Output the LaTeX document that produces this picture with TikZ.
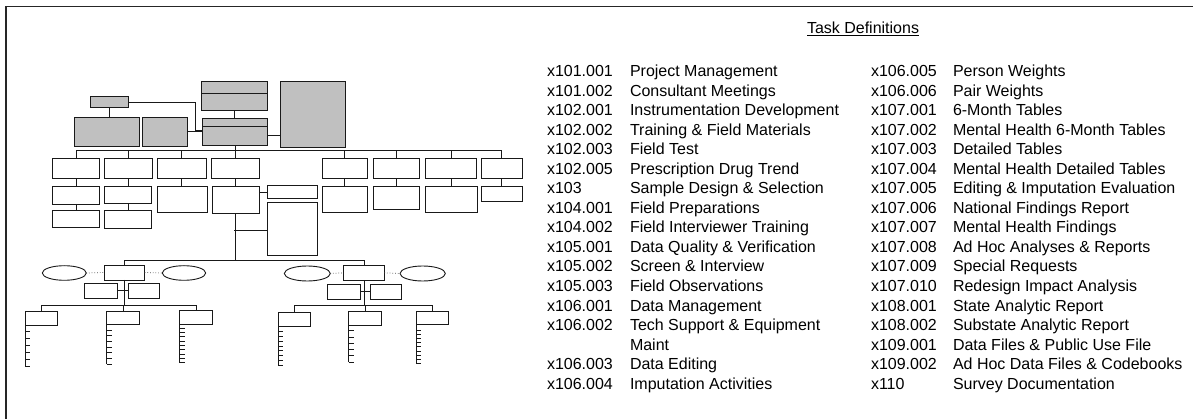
\documentclass[tikz,border=0pt]{standalone}
\usepackage{fontspec}
\setmainfont{Liberation Sans}
\usetikzlibrary{shapes.geometric}
\definecolor{boxgray}{HTML}{C0C0C0}
\newcommand\bx[6]{\node[#6, minimum width={(#4-#2)*1pt}, minimum height={(#5-#3)*1pt}] (#1) at ({(#2+#4)/2},{(#3+#5)/2}) {};}
\newcommand\lad[5]{\draw[ln] (#1.south west) -- (#2,#3);
  \foreach \k in {1,...,#5}{\pgfmathsetmacro\yy{#4+(\k-1)*(#3-#4)/(#5-1)}\draw[ln] (#2,\yy) -- ++(5,0);}}
\newcommand\entry[6]{%
  \node[txt] (#1c) at (#2,{76.5+#4*19.55}) {#5};
  \node[txt] (#1d) at (#3,{76.5+#4*19.55}) {#6};}
\begin{document}
\begin{tikzpicture}[x=1pt,y=-1pt,
  ln/.style={line width=0.9pt,draw=black!90},
  gbox/.style={rectangle,draw=black!90,line width=0.9pt,fill=boxgray,inner sep=0pt,outer sep=0pt},
  wbox/.style={rectangle,draw=black!90,line width=0.9pt,fill=white,inner sep=0pt,outer sep=0pt},
  ell/.style={ellipse,draw=black!90,line width=0.9pt,fill=white,inner sep=0pt,outer sep=0pt},
  dotl/.style={draw=black!70,line width=0.7pt,dotted},
  txt/.style={anchor=base west,inner sep=0pt,outer sep=0pt,font=\fontsize{16}{19}\selectfont}]
\useasboundingbox (0,0) rectangle (1193,419);
% frame (top and left edges)
\coordinate (fr0) at (6,419);
\coordinate (fr1) at (6,6.5);
\coordinate (fr2) at (1193,6.5);
\draw[line width=1.8pt,draw=black!85] (fr0) -- (fr1) -- (fr2);

% gray boxes
\bx{sm}{90.3}{96.3}{128.7}{107.7}{gbox}
\bx{gl}{74}{117.3}{139.7}{146}{gbox}
\bx{gt}{142.3}{117.3}{187}{146}{gbox}
\bx{tctop}{201.7}{81.3}{267}{93.3}{gbox}
\bx{tcbot}{201.7}{93.3}{267}{110.3}{gbox}
\bx{cgtop}{202.7}{118}{267.3}{126}{gbox}
\bx{cgbot}{202.7}{126}{267.3}{145.3}{gbox}
\bx{rg}{280}{81.3}{345.3}{147}{gbox}

\draw[ln] (sm.south) -- (sm.south |- gl.north);
\coordinate (k1) at (195,130.3);
\draw[ln] (sm.east) -| (k1) -- (k1 -| cgbot.west);
\draw[ln] (gt.east) -- (gt.east -| cgbot.west);
\draw[ln] (cgbot.east) -- (cgbot.east -| rg.west);
\draw[ln] (tcbot.south) -- (tcbot.south |- cgtop.north);

% row 1
\bx{ra}{52.3}{158}{99.7}{178.7}{wbox}
\bx{rb}{104.7}{158}{152.3}{178.7}{wbox}
\bx{rc}{157.3}{158}{206.3}{178.7}{wbox}
\bx{rd}{211.3}{158}{259}{178.7}{wbox}
\bx{re}{322.3}{158}{367.3}{178.7}{wbox}
\bx{rf}{373.7}{158}{419}{178.7}{wbox}
\bx{rgg}{425.3}{158}{476.7}{178.7}{wbox}
\bx{rh}{481}{158}{522.3}{178.7}{wbox}
\coordinate (bus) at (234.3,150.3);
\draw[ln] (cgbot.south) -- (cgbot.south |- bus);
\draw[ln] (ra.north) -- (ra.north |- bus) -- (rh.north |- bus) -- (rh.north);
\foreach \n in {rb,rc,rd,re,rf,rgg}{\draw[ln] (\n.north) -- (\n.north |- bus);}

% row 2
\bx{sa}{52.3}{186.3}{99.7}{204}{wbox}
\bx{sb}{104.7}{186.3}{151.3}{203.3}{wbox}
\bx{sc}{157.3}{186.7}{207.3}{212.3}{wbox}
\bx{sd}{212.3}{186.3}{259}{213.7}{wbox}
\bx{side}{267.3}{185.7}{317.3}{198.3}{wbox}
\bx{tall}{267.7}{202.3}{317.3}{255.3}{wbox}
\bx{se}{322.3}{186.3}{367.3}{212.3}{wbox}
\bx{sf}{373.7}{186.3}{419}{209}{wbox}
\bx{sg}{425.3}{186.3}{477}{212.3}{wbox}
\bx{sh}{481}{186.3}{522.3}{201.7}{wbox}
\draw[ln] (ra.south) -- (ra.south |- sa.north);
\draw[ln] (rb.south) -- (rb.south |- sb.north);
\draw[ln] (rc.south) -- (rc.south |- sc.north);
\draw[ln] (rd.south) -- (rd.south |- sd.north);
\draw[ln] (re.south) -- (re.south |- se.north);
\draw[ln] (rf.south) -- (rf.south |- sf.north);
\draw[ln] (rgg.south) -- (rgg.south |- sg.north);
\draw[ln] (rh.south) -- (rh.south |- sh.north);
\draw[ln] (side.west) -- (side.west -| sd.east);

% row 3
\bx{ta}{52.3}{210.3}{99.7}{227.3}{wbox}
\bx{tb}{104.7}{210.7}{151.7}{228}{wbox}
\draw[ln] (sa.south) -- (sa.south |- ta.north);
\draw[ln] (sb.south) -- (sb.south |- tb.north);

% middle groups
\bx{lm}{104}{265}{144.7}{280}{wbox}
\bx{rm}{343.7}{265.3}{384.3}{280.3}{wbox}
\coordinate (b2) at (234.3,260);
\coordinate (tk) at (234.3,230);
\draw[ln] (rd.south |- sd.south) -- (rd.south |- b2);
\draw[ln] (tk) -- (tk -| tall.west);
\draw[ln] (lm.north) -- (lm.north |- b2) -- (rm.north |- b2) -- (rm.north);

\node[ell,minimum width=44pt,minimum height=14.6pt] (le1) at (64.3,273) {};
\node[ell,minimum width=43.4pt,minimum height=14.6pt] (le2) at (184,273) {};
\node[ell,minimum width=46pt,minimum height=15pt] (re1) at (307.3,273.5) {};
\node[ell,minimum width=45.3pt,minimum height=15pt] (re2) at (422.7,273.5) {};
\draw[dotl] (le1.east) -- (lm.west);
\draw[dotl] (lm.east) -- (le2.west);
\draw[dotl] (re1.east) -- (rm.west);
\draw[dotl] (rm.east) -- (re2.west);

\bx{ls1}{84.3}{283.3}{117}{298.3}{wbox}
\bx{ls2}{128.7}{283.3}{159.3}{298.3}{wbox}
\bx{rs1}{327.7}{284.3}{360}{299.3}{wbox}
\bx{rs2}{370.7}{284.3}{401.3}{299.3}{wbox}
\draw[ln] (ls1.east) -- (ls2.west);
\draw[ln] (rs1.east) -- (rs2.west);

% bottom level
\bx{Lone}{25}{311.3}{57.3}{325}{wbox}
\bx{Ltwo}{106.7}{311.3}{139.3}{324.3}{wbox}
\bx{Lthr}{179.7}{310.7}{212.7}{324.3}{wbox}
\bx{Rone}{278.3}{312}{310.7}{326}{wbox}
\bx{Rtwo}{348.7}{311.3}{381.3}{325.3}{wbox}
\bx{Rthr}{416}{311}{448.7}{324.3}{wbox}
\coordinate (b3) at (124,305.3);
\draw[ln] (lm.south) -- (lm.south |- b3);
\draw[ln] (Lone.north) -- (Lone.north |- b3) -- (Lthr.north |- b3) -- (Lthr.north);
\draw[ln] (Ltwo.north) -- (Ltwo.north |- b3);
\draw[ln] (rm.south) -- (rm.south |- b3);
\draw[ln] (Rone.north) -- (Rone.north |- b3) -- (Rthr.north |- b3) -- (Rthr.north);
\draw[ln] (Rtwo.north) -- (Rtwo.north |- b3);

\lad{Lone}{25}{366.7}{331.7}{6}
\lad{Ltwo}{106.7}{364.3}{330}{7}
\lad{Lthr}{179.7}{362.7}{328}{9}
\lad{Rone}{278.3}{365.3}{331.7}{8}
\lad{Rtwo}{348.7}{362}{330.7}{6}
\lad{Rthr}{416}{363.7}{330}{9}

% text
\node[txt] (title) at (807,34) {\underline{Task Definitions}};
\entry{a0}{547}{630}{0}{x101.001}{Project Management}
\entry{a1}{547}{630}{1}{x101.002}{Consultant Meetings}
\entry{a2}{547}{630}{2}{x102.001}{Instrumentation Development}
\entry{a3}{547}{630}{3}{x102.002}{Training \& Field Materials}
\entry{a4}{547}{630}{4}{x102.003}{Field Test}
\entry{a5}{547}{630}{5}{x102.005}{Prescription Drug Trend}
\entry{a6}{547}{630}{6}{x103}{Sample Design \& Selection}
\entry{a7}{547}{630}{7}{x104.001}{Field Preparations}
\entry{a8}{547}{630}{8}{x104.002}{Field Interviewer Training}
\entry{a9}{547}{630}{9}{x105.001}{Data Quality \& Verification}
\entry{a10}{547}{630}{10}{x105.002}{Screen \& Interview}
\entry{a11}{547}{630}{11}{x105.003}{Field Observations}
\entry{a12}{547}{630}{12}{x106.001}{Data Management}
\entry{a13}{547}{630}{13}{x106.002}{Tech Support \& Equipment}
\node[txt] (maint) at (630,{76.5+14*19.55}) {Maint};
\entry{a15}{547}{630}{15}{x106.003}{Data Editing}
\entry{a16}{547}{630}{16}{x106.004}{Imputation Activities}
\entry{b0}{871}{953}{0}{x106.005}{Person Weights}
\entry{b1}{871}{953}{1}{x106.006}{Pair Weights}
\entry{b2}{871}{953}{2}{x107.001}{6-Month Tables}
\entry{b3}{871}{953}{3}{x107.002}{Mental Health 6-Month Tables}
\entry{b4}{871}{953}{4}{x107.003}{Detailed Tables}
\entry{b5}{871}{953}{5}{x107.004}{Mental Health Detailed Tables}
\entry{b6}{871}{953}{6}{x107.005}{Editing \& Imputation Evaluation}
\entry{b7}{871}{953}{7}{x107.006}{National Findings Report}
\entry{b8}{871}{953}{8}{x107.007}{Mental Health Findings}
\entry{b9}{871}{953}{9}{x107.008}{Ad Hoc Analyses \& Reports}
\entry{b10}{871}{953}{10}{x107.009}{Special Requests}
\entry{b11}{871}{953}{11}{x107.010}{Redesign Impact Analysis}
\entry{b12}{871}{953}{12}{x108.001}{State Analytic Report}
\entry{b13}{871}{953}{13}{x108.002}{Substate Analytic Report}
\entry{b14}{871}{953}{14}{x109.001}{Data Files \& Public Use File}
\entry{b15}{871}{953}{15}{x109.002}{Ad Hoc Data Files \& Codebooks}
\entry{b16}{871}{953}{16}{x110}{Survey Documentation}
\end{tikzpicture}
\end{document}
